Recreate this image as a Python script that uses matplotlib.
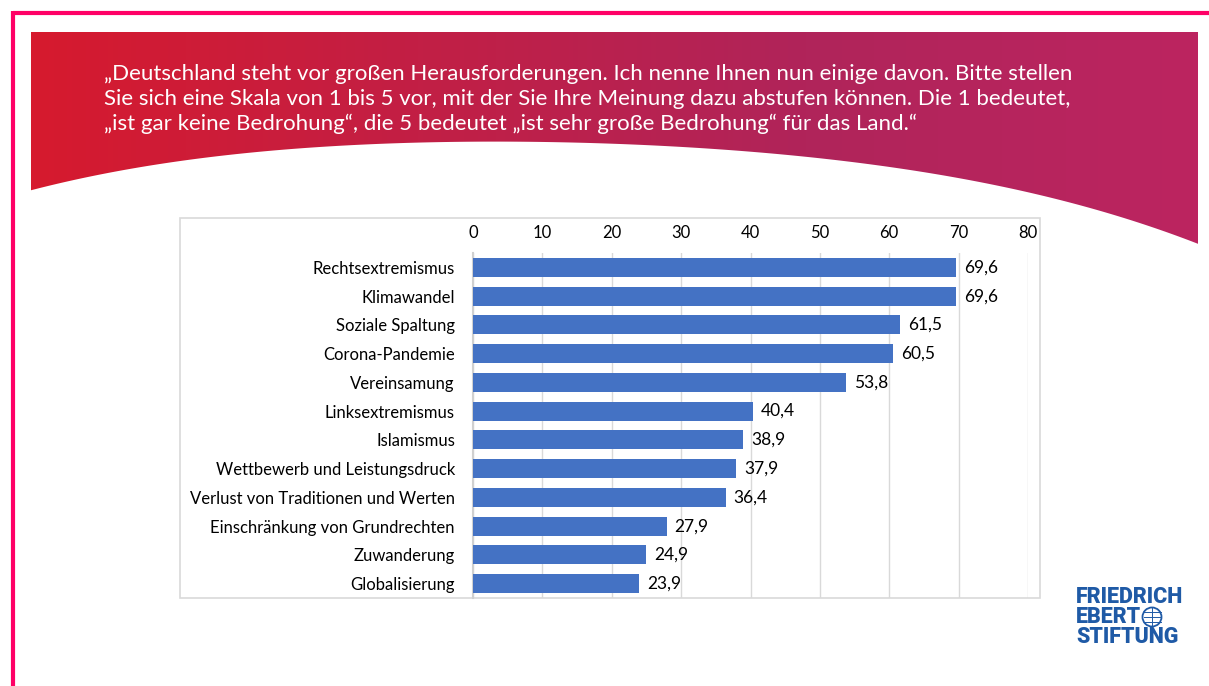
import numpy as np
import matplotlib
matplotlib.use("Agg")
import matplotlib.pyplot as plt
from matplotlib.patches import Polygon, Rectangle, Circle
from matplotlib.colors import LinearSegmentedColormap

# Daten
kategorien = ["Rechtsextremismus", "Klimawandel", "Soziale Spaltung", "Corona-Pandemie",
              "Vereinsamung", "Linksextremismus", "Islamismus",
              "Wettbewerb und Leistungsdruck", "Verlust von Traditionen und Werten",
              "Einschränkung von Grundrechten", "Zuwanderung", "Globalisierung"]
werte = [69.6, 69.6, 61.5, 60.5, 53.8, 40.4, 38.9, 37.9, 36.4, 27.9, 24.9, 23.9]
x_ticks = [0, 10, 20, 30, 40, 50, 60, 70, 80]

titel = ("„Deutschland steht vor großen Herausforderungen. Ich nenne Ihnen nun einige davon. Bitte stellen\n"
         "Sie sich eine Skala von 1 bis 5 vor, mit der Sie Ihre Meinung dazu abstufen können. Die 1 bedeutet,\n"
         "„ist gar keine Bedrohung“, die 5 bedeutet „ist sehr große Bedrohung“ für das Land.“")

W, H = 1209, 686
fig = plt.figure(figsize=(W / 100, H / 100), dpi=100)

# Hintergrund in Pixelkoordinaten
bg = fig.add_axes([0, 0, 1, 1])
bg.set_xlim(0, W)
bg.set_ylim(H, 0)
bg.axis("off")

# rosa Rahmen
bg.plot([12.5, W], [12.5, 12.5], color="#FF0066", lw=3, solid_capstyle="butt")
bg.plot([12.5, 12.5], [11, H], color="#FF0066", lw=3, solid_capstyle="butt")

# Kopfband mit Farbverlauf und gebogener Unterkante
kx = [31, 100, 200, 300, 400, 500, 600, 700, 800, 900, 1000, 1100, 1198]
ky = [193, 170, 158, 151, 144, 141, 143, 147, 157, 167, 187, 212, 243]
koef = np.polyfit(kx, ky, 4)
xs = np.linspace(31, 1198, 300)
ys = np.polyval(koef, xs)
pts = [(31, 32), (1198, 32)] + list(zip(xs[::-1], ys[::-1]))
band = Polygon(pts, closed=True, facecolor="none", edgecolor="none")
bg.add_patch(band)
cmap = LinearSegmentedColormap.from_list("band", ["#D61A2E", "#C21F45", "#B0245A", "#BC2460"])
grad = np.linspace(0, 1, 256).reshape(1, -1)
im = bg.imshow(grad, cmap=cmap, extent=[31, 1198, 250, 32], aspect="auto", zorder=1)
im.set_clip_path(band)

bg.text(104, 64, titel, color="white", fontsize=16, family="Lato",
        va="top", ha="left", linespacing=1.3, zorder=3)

# Diagrammrahmen
bg.add_patch(Rectangle((180, 218), 860, 380, facecolor="white", edgecolor="#D9D9D9", lw=1.2, zorder=2))

# Logo
logo_farbe = "#1F5AA6"
for i, wort in enumerate(["FRIEDRICH", "EBERT", "STIFTUNG"]):
    bg.text(1076, 597 + i * 20, wort, color=logo_farbe, fontsize=15.5, fontweight="heavy",
            family=["Roboto", "DejaVu Sans"], va="center", ha="left", zorder=3)
globus = Circle((1152, 617), 9.5, facecolor="white", edgecolor=logo_farbe, lw=1.3, zorder=4)
bg.add_patch(globus)
for dy in (-5, 0, 5):
    bg.plot([1143.5, 1160.5], [617 + dy, 617 + dy], color=logo_farbe, lw=0.7, zorder=5)
bg.plot([1152, 1152], [607.5, 626.5], color=logo_farbe, lw=0.7, zorder=5)

# Balkendiagramm
ax = fig.add_axes([473 / W, 1 - 598 / H, 555 / W, 345 / H], zorder=5)
ax.patch.set_alpha(0)
y = np.arange(len(kategorien))
ax.barh(y, werte, height=0.66, color="#4472C4", zorder=3)
ax.set_ylim(len(kategorien) - 0.5, -0.5)
ax.set_xlim(0, 80)
ax.set_xticks(x_ticks)
ax.set_xticklabels([str(t) for t in x_ticks])
ax.xaxis.tick_top()
ax.set_yticks(y)
ax.set_yticklabels(kategorien)
ax.tick_params(axis="both", length=0, labelsize=12, colors="#000000")
ax.tick_params(axis="x", pad=9)
ax.tick_params(axis="y", pad=13)
for lbl in ax.get_xticklabels() + ax.get_yticklabels():
    lbl.set_family("Lato")
ax.grid(axis="x", color="#D9D9D9", lw=1, zorder=0)
for s in ["top", "right", "bottom"]:
    ax.spines[s].set_visible(False)
ax.spines["left"].set_color("#D0D0D0")
ax.spines["left"].set_linewidth(1.5)
for yi, v in zip(y, werte):
    ax.text(v + 1.15, yi, f"{v:.1f}".replace(".", ","), va="center", ha="left",
            fontsize=12.5, family="Lato")

fig.savefig("out.png", dpi=100)
